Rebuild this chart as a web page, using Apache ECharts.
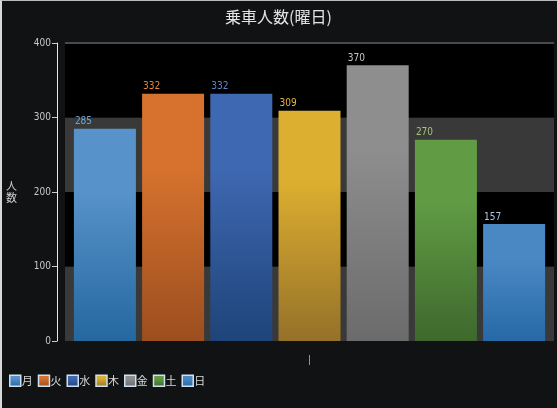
<!DOCTYPE html>
<html lang="ja">
<head>
    <meta charset="UTF-8">
    <title>乗車人数(曜日)</title>
    <script src="https://cdn.jsdelivr.net/npm/echarts@6/dist/echarts.min.js"></script>
    <style>
        body, html {
            margin: 0;
            padding: 0;
            width: 100%;
            height: 100%;
            overflow: hidden;
            background-color: #111213;
        }
        #container {
            width: 557px;
            height: 408px;
            position: relative;
        }
        /* 左と上の枠線 */
        #frame {
            position: absolute;
            left: 0;
            top: 0;
            width: 557px;
            height: 408px;
            box-sizing: border-box;
            border-left: 2px solid #d8d8d8;
            border-top: 1px solid #bbb;
            pointer-events: none;
        }
    </style>
</head>
<body>
    <div id="container"></div>
    <div id="frame"></div>
    <script>
        // 曜日ごとの乗車人数
        var days = ['月', '火', '水', '木', '金', '土', '日'];
        var riders = [285, 332, 332, 309, 370, 270, 157];
        var categories = ['|'];
        var yTicks = [0, 100, 200, 300, 400];

        // 色 (上, 下, ラベル)
        var topColors = ['#5792ca', '#d6722e', '#3f68b2', '#ddaf30', '#8e8e8e', '#619c44', '#4a88c4'];
        var bottomColors = ['#25679f', '#9c4e1f', '#1e4479', '#957129', '#6b6b6b', '#3e682d', '#2669a6'];
        var labelColors = ['#6aa6dc', '#e0873e', '#6482c4', '#e6b43c', '#c8c8c8', '#a6c27a', '#a8c4e4'];

        var series = days.map(function (d, i) {
            return {
                name: d,
                type: 'bar',
                data: [riders[i]],
                barWidth: 62,
                barGap: '10%',
                itemStyle: {
                    color: new echarts.graphic.LinearGradient(0, 0, 0, 1, [
                        { offset: 0, color: topColors[i] },
                        { offset: 0.3, color: topColors[i] },
                        { offset: 1, color: bottomColors[i] }
                    ])
                },
                label: {
                    show: true,
                    position: [1, -12],
                    color: labelColors[i],
                    fontSize: 10,
                    fontFamily: 'DejaVu Sans Condensed, Liberation Sans Narrow, sans-serif'
                }
            };
        });

        var option = {
            backgroundColor: 'transparent',
            animation: false,
            title: {
                text: '乗車人数(曜日)',
                left: 'center',
                top: 4,
                textStyle: {
                    color: '#e4e4e4',
                    fontSize: 16,
                    fontWeight: 'normal',
                    fontFamily: 'Noto Sans CJK JP'
                }
            },
            legend: {
                left: 4,
                bottom: 16,
                itemWidth: 11,
                itemHeight: 11,
                itemGap: 5,
                icon: 'rect',
                itemStyle: { borderColor: '#cfe0f0', borderWidth: 1.5 },
                textStyle: { color: '#d8d8d8', fontSize: 11, fontFamily: 'Noto Sans CJK JP', padding: [0, 0, 0, -4] },
                data: days
            },
            grid: {
                left: 65,
                right: 3,
                top: 43,
                bottom: 67
            },
            xAxis: {
                type: 'category',
                data: categories,
                axisLine: { show: false },
                axisTick: { show: false },
                axisLabel: { color: '#aaa', fontSize: 10, margin: 14 },
                splitLine: { show: false }
            },
            yAxis: {
                type: 'value',
                min: yTicks[0],
                max: yTicks[yTicks.length - 1],
                interval: 100,
                offset: 8,
                name: '人\n数',
                nameLocation: 'middle',
                nameRotate: 0,
                nameGap: 40,
                nameTextStyle: { color: '#cfcfcf', fontSize: 11, fontFamily: 'Noto Sans CJK JP', lineHeight: 12 },
                axisLine: { show: true, lineStyle: { color: '#e8e8e8', width: 1 } },
                axisTick: { show: true, length: 5, lineStyle: { color: '#ccc' } },
                axisLabel: {
                    color: function (v) { return v === 0 ? '#d6c060' : '#c8c8c8'; },
                    fontSize: 10,
                    margin: 6,
                    fontFamily: 'DejaVu Sans Condensed, Liberation Sans Narrow, sans-serif'
                },
                splitLine: {
                    show: true,
                    lineStyle: { color: ['transparent', 'transparent', 'transparent', 'transparent', '#4a4a4a'], width: 2 }
                },
                splitArea: {
                    show: true,
                    areaStyle: { color: ['#393939', '#000000'] }
                }
            },
            series: series
        };

        var chart = echarts.init(document.getElementById('container'));
        chart.setOption(option);
    </script>
</body>
</html>
